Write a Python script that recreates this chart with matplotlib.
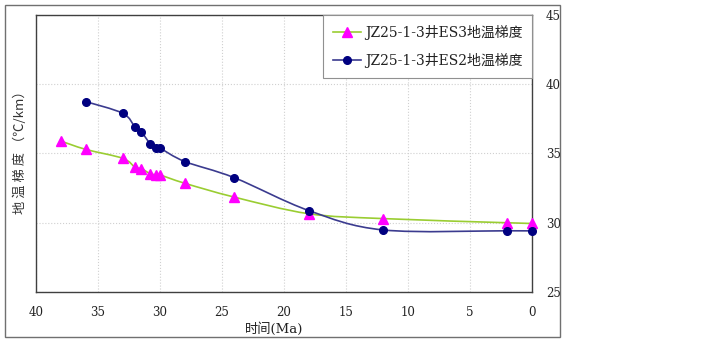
import numpy as np
import matplotlib.pyplot as plt
from matplotlib.path import Path
from matplotlib.patches import PathPatch, Rectangle
from matplotlib.lines import Line2D

plt.rcParams['font.family'] = ['DejaVu Serif', 'Noto Sans CJK SC']

# JZ25-1-3 well, ES3 geothermal gradient
es3_age = [38, 36, 33, 32, 31.5, 30.8, 30.3, 30, 28, 24, 18, 12, 2, 0]
es3_grad = [35.9, 35.3, 34.65, 34.0, 33.9, 33.55, 33.45, 33.45, 32.85, 31.85, 30.65, 30.3, 30.0, 29.95]

# JZ25-1-3 well, ES2 geothermal gradient
es2_age = [36, 33, 32, 31.5, 30.8, 30.3, 30, 28, 24, 18, 12, 2, 0]
es2_grad = [38.75, 37.9, 36.9, 36.55, 35.72, 35.38, 35.38, 34.42, 33.25, 30.88, 29.48, 29.42, 29.42]

label_es3 = "JZ25-1-3井ES3地温梯度"
label_es2 = "JZ25-1-3井ES2地温梯度"
x_ticks = [40, 35, 30, 25, 20, 15, 10, 5, 0]
y_ticks = [25, 30, 35, 40, 45]


def smooth_path(xs, ys):
    # Bezier path through the points (spreadsheet-style smoothed line)
    p = np.column_stack([xs, ys]).astype(float)
    n = len(p)
    verts = [p[0]]
    codes = [Path.MOVETO]
    for i in range(n - 1):
        prev = p[i - 1] if i > 0 else p[i]
        nxt = p[i + 2] if i + 2 < n else p[i + 1]
        c1 = p[i] + (p[i + 1] - prev) / 6.0
        c2 = p[i + 1] - (nxt - p[i]) / 6.0
        verts += [c1, c2, p[i + 1]]
        codes += [Path.CURVE4] * 3
    return Path(verts, codes)


fig = plt.figure(figsize=(7.2, 3.41), dpi=100)
ax = fig.add_axes([36 / 720, 1 - 292 / 341, 496 / 720, 277 / 341])

# outer chart-area border
fig.add_artist(Rectangle((5 / 720, 4 / 341), 555 / 720, 332 / 341,
                         transform=fig.transFigure, fill=False,
                         edgecolor="#707070", linewidth=1.0))

green = "#9ACD32"
navy_line = "#3B3B8F"

ax.add_patch(PathPatch(smooth_path(es3_age, es3_grad), fill=False,
                       edgecolor=green, linewidth=1.2, zorder=3))
ax.add_patch(PathPatch(smooth_path(es2_age, es2_grad), fill=False,
                       edgecolor=navy_line, linewidth=1.2, zorder=3))
ax.plot(es3_age, es3_grad, linestyle="none", marker="^", markersize=6.5,
        color="#FF00FF", zorder=4, clip_on=False)
ax.plot(es2_age, es2_grad, linestyle="none", marker="o", markersize=5.5,
        color="#000080", zorder=4, clip_on=False)

ax.set_xlim(40, 0)
ax.set_ylim(25, 45)
ax.set_xticks(x_ticks)
ax.set_yticks(y_ticks)
ax.yaxis.tick_right()
ax.tick_params(length=0, labelsize=8.5, colors="#222222")
ax.tick_params(axis="x", pad=10)
ax.tick_params(axis="y", pad=10)
ax.grid(True, linestyle=":", color="#D0D0D0", linewidth=0.8)
for s in ax.spines.values():
    s.set_color("#404040")
    s.set_linewidth(1.0)

fig.text(274 / 720, 1 - 329 / 341, "时间(Ma)", ha="center", va="center",
         fontsize=9.5, color="#222222")
fig.text(20 / 720, 1 - 149 / 341, "地 温 梯 度 （℃/km）", rotation=90,
         ha="center", va="center", fontsize=9.5, color="#333333",
         family=['Noto Sans CJK SC', 'DejaVu Sans'])

handles = [
    Line2D([], [], color=green, marker="^", markersize=6.5,
           markerfacecolor="#FF00FF", markeredgecolor="#FF00FF", linewidth=1.2),
    Line2D([], [], color=navy_line, marker="o", markersize=5.5,
           markerfacecolor="#000080", markeredgecolor="#000080", linewidth=1.2),
]
leg = ax.legend(handles, [label_es3, label_es2], loc="upper right",
                bbox_to_anchor=(1.0, 1.0), fontsize=10, fancybox=False,
                framealpha=1, edgecolor="#909090", borderpad=0.7,
                labelspacing=0.95, handlelength=2.0, handletextpad=0.3,
                borderaxespad=0)
leg.get_frame().set_linewidth(0.8)
for t in leg.get_texts():
    t.set_color("#222222")

fig.savefig("out.png", dpi=100)
